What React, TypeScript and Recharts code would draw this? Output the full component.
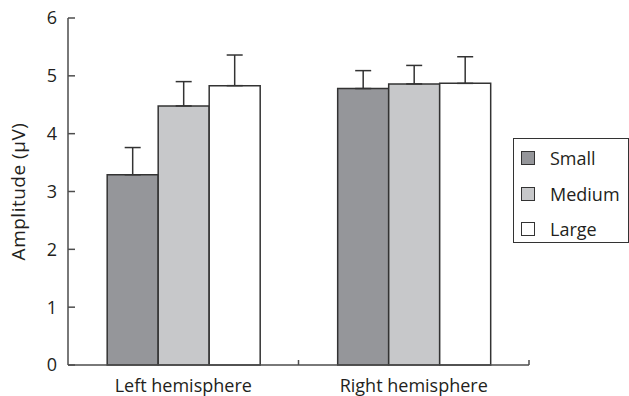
import { BarChart, Bar, XAxis, YAxis, ErrorBar } from 'recharts';

// Mean amplitude (µV) per hemisphere and stimulus size, with one-sided SE
const CATEGORIES = ['Left hemisphere', 'Right hemisphere'];
const SMALL = [3.29, 4.78];
const SMALL_ERR = [0.47, 0.31];
const MEDIUM = [4.48, 4.86];
const MEDIUM_ERR = [0.42, 0.32];
const LARGE = [4.83, 4.87];
const LARGE_ERR = [0.53, 0.46];
const Y_TICKS = [0, 1, 2, 3, 4, 5, 6];

const SERIES = [
  { key: 'small', name: 'Small', color: '#95969a' },
  { key: 'medium', name: 'Medium', color: '#c7c8ca' },
  { key: 'large', name: 'Large', color: '#ffffff' },
];

const data = CATEGORIES.map((name, i) => ({
  name,
  small: SMALL[i],
  smallErr: [0, SMALL_ERR[i]],
  medium: MEDIUM[i],
  mediumErr: [0, MEDIUM_ERR[i]],
  large: LARGE[i],
  largeErr: [0, LARGE_ERR[i]],
}));

const FONT = '"Open Sans", Lato, sans-serif';
const INK = '#231f20';
const AXIS = '#4d4d4d';

// category label plus an inward tick at the right edge of each band
const XTick = ({ x, y, payload }: any) => {
  const half = payload?.offset ?? 0;
  return (
    <g>
      <line x1={x + half} y1={y} x2={x + half} y2={y - 5} stroke={AXIS} strokeWidth={1.5} />
      <text x={x} y={y + 27} textAnchor="middle" fontSize={18} fontFamily={FONT} fill={INK}>
        {payload.value}
      </text>
    </g>
  );
};

export default function App() {
  return (
    <div style={{ position: 'absolute', left: 0, top: 0, width: 629, height: 396, background: '#fff' }}>
      <BarChart
        width={629}
        height={396}
        data={data}
        margin={{ top: 18, right: 100, bottom: 0, left: 13 }}
        barCategoryGap="17%"
        barGap={0}
      >
        <XAxis
          dataKey="name"
          height={31}
          stroke={AXIS}
          strokeWidth={1.5}
          tickLine={false}
          tickSize={0}
          tickMargin={0}
          tick={<XTick />}
          interval={0}
        />
        <YAxis
          width={55}
          domain={[0, 6]}
          ticks={Y_TICKS}
          stroke={AXIS}
          strokeWidth={1.5}
          tickSize={-7}
          tickMargin={18}
          tick={{ fill: INK, fontSize: 18, fontFamily: FONT }}
          label={{
            value: 'Amplitude (µV)',
            angle: -90,
            position: 'insideLeft',
            offset: 5,
            style: { textAnchor: 'middle', fill: INK, fontSize: 19, fontFamily: FONT, letterSpacing: 0.5 },
          }}
        />
        {SERIES.map(s => (
          <Bar
            key={s.key}
            dataKey={s.key}
            name={s.name}
            fill={s.color}
            stroke="#333333"
            strokeWidth={1.5}
            isAnimationActive={false}
          >
            <ErrorBar dataKey={`${s.key}Err`} width={8} stroke="#333333" strokeWidth={1.5} direction="y" />
          </Bar>
        ))}
      </BarChart>

      {/* legend box */}
      <div
        style={{
          position: 'absolute',
          left: 513,
          top: 138,
          width: 116,
          height: 105,
          boxSizing: 'border-box',
          border: '1px solid #333',
          background: '#fff',
          fontFamily: FONT,
          fontSize: 18,
          color: INK,
        }}
      >
        {SERIES.map((s, i) => (
          <div
            key={s.key}
            style={{ position: 'absolute', left: 7, top: 8 + i * 35.5, height: 22, display: 'flex', alignItems: 'center' }}
          >
            <span
              style={{
                width: 14,
                height: 14,
                boxSizing: 'border-box',
                border: '1px solid #333',
                background: s.color,
                display: 'inline-block',
              }}
            />
            <span style={{ marginLeft: 15 }}>{s.name}</span>
          </div>
        ))}
      </div>
    </div>
  );
}
